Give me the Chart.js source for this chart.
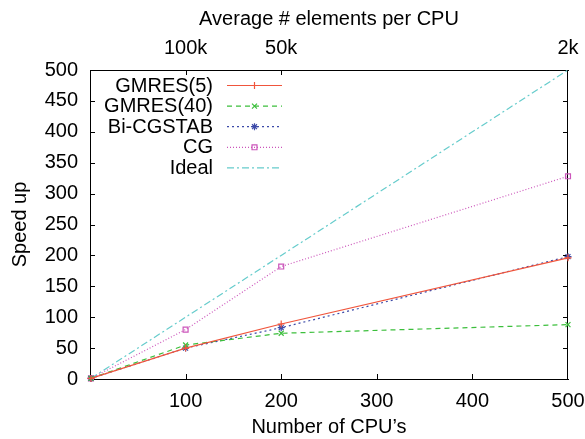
<!DOCTYPE html>
<html>
<head>
<meta charset="utf-8">
<script src="https://cdn.jsdelivr.net/npm/chart.js@4"></script>
<style>
  html, body { margin: 0; padding: 0; background: #fff; }
  #wrap { width: 585px; height: 439px; }
</style>
</head>
<body>
<div id="wrap"><canvas id="speedChart"></canvas></div>
<script>
// dados
const cpus = [1, 100, 200, 500];
const gmres5 = [1, 50, 89, 196];
const gmres40 = [1, 55, 74, 88];
const bicgstab = [1, 50, 83, 198];
const cg = [1, 80, 182, 328];
const ideal = [1, 100, 200, 500];

const topTickValues = [100, 200, 500];
const topTickLabels = ['100k', '50k', '2k'];

const FONTE = "'Liberation Sans', Arial, sans-serif";
const TAM = 20;

function pontos(valores) {
    return cpus.map((c, i) => ({ x: c, y: valores[i] }));
}

const series = [
    { label: 'GMRES(5)', data: pontos(gmres5), borderColor: '#f0553c', dash: [], pointStyle: 'cross' },
    { label: 'GMRES(40)', data: pontos(gmres40), borderColor: '#3cbf3c', dash: [5, 4], pointStyle: 'crossRot' },
    { label: 'Bi-CGSTAB', data: pontos(bicgstab), borderColor: '#3c4aa8', dash: [2, 3], pointStyle: 'star' },
    { label: 'CG', data: pontos(cg), borderColor: '#cc55bb', dash: [1, 2], pointStyle: 'rect' },
    { label: 'Ideal', data: pontos(ideal), borderColor: '#66cccc', dash: [7, 3, 2, 3], pointStyle: false }
];

// marcas de escala para dentro (estilo gnuplot), borda direita e legenda com texto à esquerda
const gnuplotPlugin = {
    id: 'gnuplotExtras',
    beforeDatasetsDraw(chart) {
        const ctx = chart.ctx;
        const a = chart.chartArea;
        const sx = chart.scales.x, sx2 = chart.scales.x2, sy = chart.scales.y;
        const len = 5;
        ctx.save();
        ctx.strokeStyle = '#000';
        ctx.lineWidth = 1;
        ctx.setLineDash([]);
        ctx.beginPath();
        const dir = Math.round(a.right) - 0.5;
        ctx.moveTo(dir, a.top); ctx.lineTo(dir, a.bottom);
        sy.ticks.forEach(t => {
            const py = Math.round(sy.getPixelForValue(t.value)) + 0.5;
            if (t.value === 0 || t.value === 500) return;
            ctx.moveTo(a.left, py); ctx.lineTo(a.left + len, py);
            ctx.moveTo(a.right, py); ctx.lineTo(a.right - len, py);
        });
        sx.ticks.forEach(t => {
            if (t.value === 0 || t.value === 500) return;
            const px = Math.round(sx.getPixelForValue(t.value)) + 0.5;
            ctx.moveTo(px, a.bottom); ctx.lineTo(px, a.bottom - len);
        });
        topTickValues.forEach(v => {
            if (v === 500) return;
            const px = Math.round(sx2.getPixelForValue(v)) + 0.5;
            ctx.moveTo(px, a.top); ctx.lineTo(px, a.top + len);
        });
        ctx.stroke();

        // legenda
        const textoDireita = a.left + 123;
        const linhaIni = a.left + 137;
        const linhaFim = a.left + 192;
        ctx.font = TAM + 'px ' + FONTE;
        ctx.textAlign = 'right';
        ctx.textBaseline = 'middle';
        series.forEach((s, i) => {
            const y = a.top + 15 + i * 20.6;
            ctx.fillStyle = '#000';
            ctx.fillText(s.label, textoDireita, y + 1);
            ctx.strokeStyle = s.borderColor;
            ctx.lineWidth = 1.2;
            ctx.setLineDash(s.dash);
            ctx.beginPath();
            ctx.moveTo(linhaIni, y + 0.5);
            ctx.lineTo(linhaFim, y + 0.5);
            ctx.stroke();
            ctx.setLineDash([]);
            if (s.pointStyle) {
                ctx.fillStyle = 'rgba(0,0,0,0)';
                ctx.strokeStyle = s.borderColor;
                Chart.helpers.drawPoint(ctx, {
                    pointStyle: s.pointStyle, radius: 3.5, rotation: 0, borderWidth: 1.2
                }, (linhaIni + linhaFim) / 2, y + 0.5);
            }
        });
        ctx.restore();
    }
};

// força a margem direita das escalas horizontais (só metade do rótulo "500")
function ajustaX(altura) {
    return s => { s.height = altura; s.paddingRight = 17; s.paddingLeft = 0; };
}

new Chart(document.getElementById('speedChart'), {
    type: 'line',
    data: {
        datasets: series.map(s => ({
            label: s.label,
            data: s.data,
            borderColor: s.borderColor,
            backgroundColor: 'transparent',
            borderWidth: 1.2,
            borderDash: s.dash,
            pointStyle: s.pointStyle,
            pointRadius: s.pointStyle ? 3.5 : 0,
            pointBorderColor: s.borderColor,
            pointBackgroundColor: 'transparent',
            pointBorderWidth: 1.2,
            tension: 0,
            fill: false,
            clip: false
        }))
    },
    options: {
        responsive: true,
        maintainAspectRatio: false,
        animation: false,
        layout: { padding: { left: 8, right: 0, top: 7, bottom: 0 } },
        plugins: { legend: { display: false }, tooltip: { enabled: false } },
        scales: {
            x: {
                type: 'linear', position: 'bottom', min: 0, max: 500,
                grid: { display: false, drawTicks: false },
                border: { display: true, color: '#000', width: 1 },
                afterFit: ajustaX(439 - 378 - 1),
                ticks: {
                    stepSize: 100, padding: 10, color: '#000',
                    font: { family: FONTE, size: TAM },
                    callback: v => v === 0 ? '' : v
                },
                title: { display: true, text: 'Number of CPU’s', color: '#000', font: { family: FONTE, size: TAM }, padding: { top: 0, bottom: 0 } }
            },
            x2: {
                type: 'linear', position: 'top', min: 0, max: 500,
                grid: { display: false, drawTicks: false },
                border: { display: true, color: '#000', width: 1 },
                afterFit: ajustaX(70 - 7),
                afterBuildTicks: axis => { axis.ticks = topTickValues.map(v => ({ value: v })); },
                ticks: {
                    padding: 10, color: '#000', autoSkip: false, maxRotation: 0,
                    font: { family: FONTE, size: TAM },
                    callback: v => topTickLabels[topTickValues.indexOf(v)]
                },
                title: { display: true, text: 'Average # elements per CPU', color: '#000', font: { family: FONTE, size: TAM }, padding: { top: 0, bottom: 6 } }
            },
            y: {
                type: 'linear', min: 0, max: 500,
                grid: { display: false, drawTicks: false },
                border: { display: true, color: '#000', width: 1 },
                afterFit: s => { s.width = 90 - 8; },
                ticks: { stepSize: 50, padding: 12, color: '#000', font: { family: FONTE, size: TAM } },
                title: { display: true, text: 'Speed up', color: '#000', font: { family: FONTE, size: TAM }, padding: { top: 0, bottom: 4 } }
            }
        }
    },
    plugins: [gnuplotPlugin]
});
</script>
</body>
</html>
